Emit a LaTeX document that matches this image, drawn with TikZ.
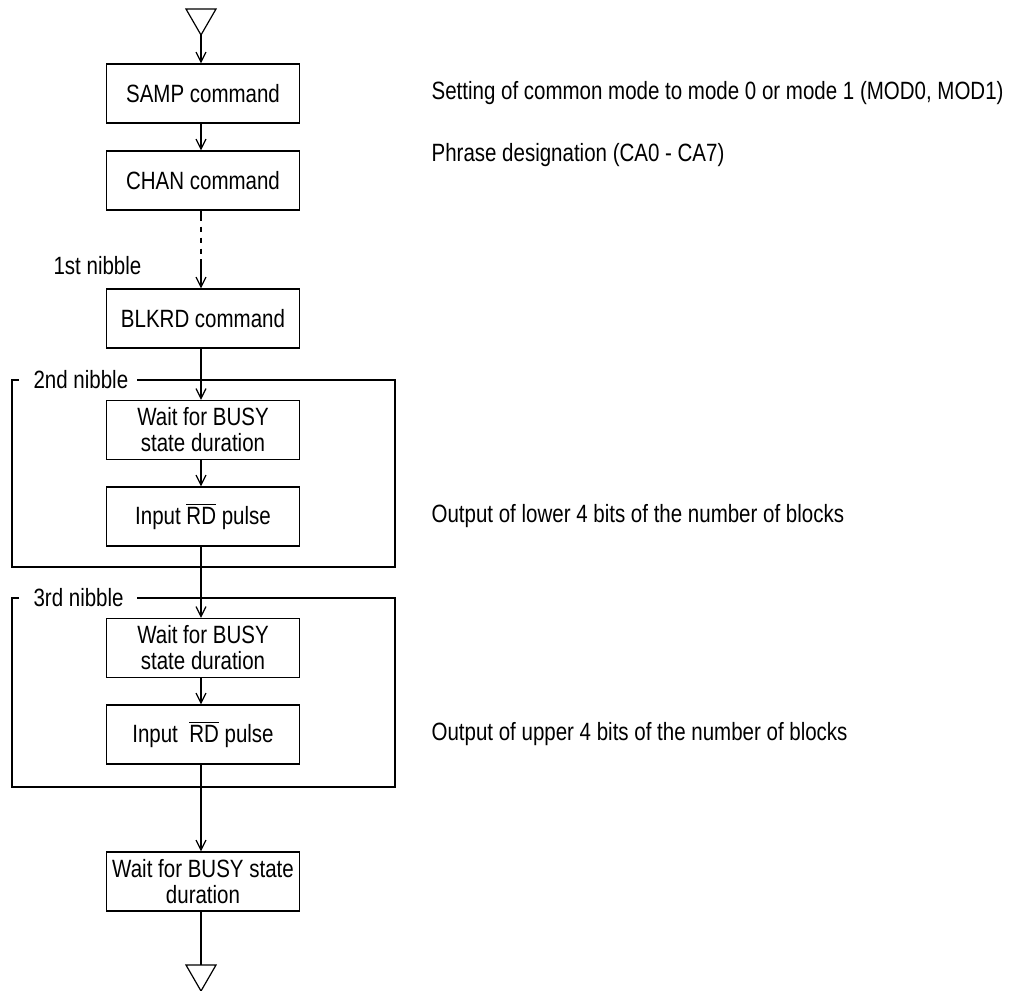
\documentclass[tikz,border=0pt]{standalone}
\usepackage{fontspec}
\setmainfont{Liberation Sans}[FakeStretch=0.82]
\usetikzlibrary{arrows.meta}
\tikzset{
  x=0.5pt, y=-0.5pt,
  every path/.style={line width=0.6pt},
  flowbox/.style={draw, minimum width=96.5pt, minimum height=29.5pt, inner sep=0pt, align=center,
    font=\fontsize{12.5}{13}\selectfont},
  lbl/.style={inner sep=0pt, font=\fontsize{12.5}{13}\selectfont},
  note/.style={lbl, anchor=west},
  arr/.style={-{Straight Barb[length=5pt,width=5pt]}},
}
\newcommand{\rdbar}{$\overline{\mbox{RD}}$}
\begin{document}
\begin{tikzpicture}
\useasboundingbox (0,0) rectangle (1022,990);
% terminals
\draw (186,9) -- (216,9) -- (201,35) -- cycle;
\coordinate (top) at (201,35);
\draw (186,965) -- (216,965) -- (201,991) -- cycle;
\coordinate (bot) at (201,965);
% boxes
\node[flowbox] (samp) at (203,93.5) {SAMP command};
\node[flowbox] (chan) at (203,180.5) {CHAN command};
\node[flowbox] (blkrd) at (203,318.5) {BLKRD command};
\node[flowbox] (wait1) at (203,430) {Wait for BUSY\\state duration};
\node[flowbox] (in1) at (203,516.5) {Input \rdbar{} pulse};
\node[flowbox] (wait2) at (203,648) {Wait for BUSY\\state duration};
\node[flowbox] (in2) at (203,734.5) {Input\ \ \rdbar{} pulse};
\node[flowbox] (wait3) at (203,881.5) {Wait for BUSY state\\duration};
% group frames
\draw (19,380) -- (12,380) -- (12,567) -- (395,567) -- (395,380) -- (137,380);
\draw (19,598) -- (12,598) -- (12,787) -- (395,787) -- (395,598) -- (137,598);
\node[lbl, anchor=west] (n1) at (53,266) {1st nibble};
\node[lbl, anchor=west] (n2) at (33,380) {2nd nibble};
\node[lbl, anchor=west] (n3) at (33,598) {3rd nibble};
% notes
\node[note] (t1) at (431,93.5) {Setting of common mode to mode 0 or mode 1 (MOD0, MOD1)};
\node[note] (t2) at (431,155) {Phrase designation (CA0 - CA7)};
\node[note] (t3) at (431,516.5) {Output of lower 4 bits of the number of blocks};
\node[note] (t4) at (431,734.5) {Output of upper 4 bits of the number of blocks};
% connectors
\draw[arr] (top) -- (top |- samp.north);
\draw[arr] (samp.south -| top) -- (top |- chan.north);
\coordinate (dashend) at (201,259);
\draw[dash pattern=on 5pt off 3pt on 2.5pt off 3pt on 2.5pt off 3pt on 2.5pt off 3pt] (chan.south -| top) -- (dashend);
\draw[arr] (dashend) -- (top |- blkrd.north);
\draw[arr] (blkrd.south -| top) -- (top |- wait1.north);
\draw[arr] (wait1.south -| top) -- (top |- in1.north);
\draw[arr] (in1.south -| top) -- (top |- wait2.north);
\draw[arr] (wait2.south -| top) -- (top |- in2.north);
\draw[arr] (in2.south -| top) -- (top |- wait3.north);
\draw (wait3.south -| top) -- (bot);
\end{tikzpicture}
\end{document}
